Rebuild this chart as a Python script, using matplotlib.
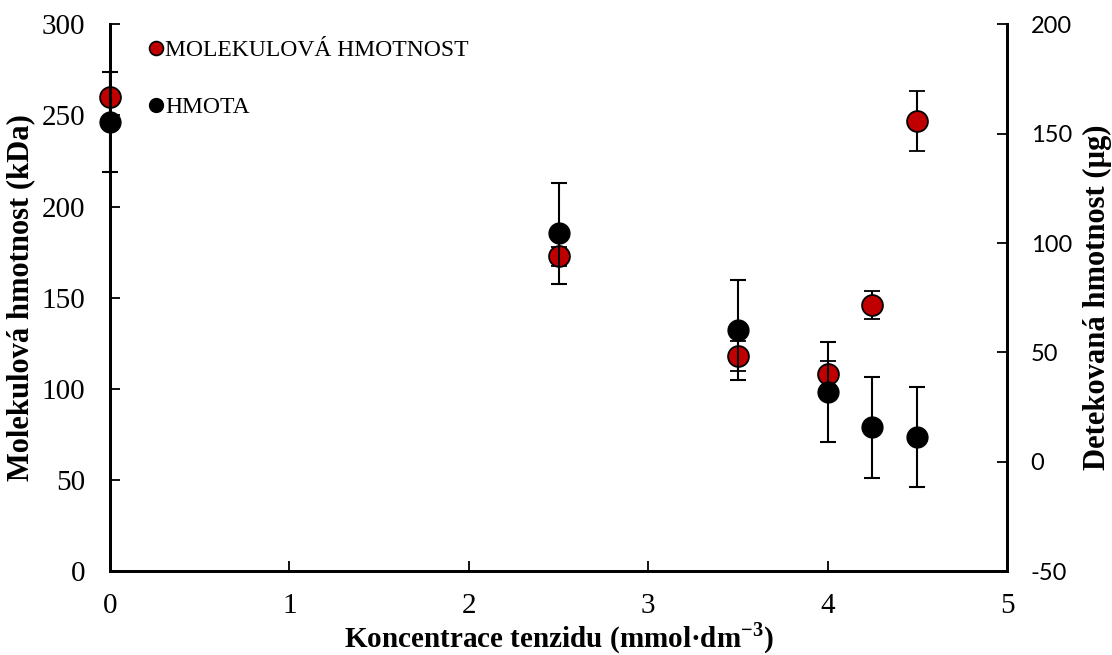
import matplotlib
matplotlib.use("Agg")
import matplotlib.pyplot as plt
from matplotlib.lines import Line2D

plt.rcParams["axes.unicode_minus"] = False

# --- Data ---
conc = [0, 2.5, 3.5, 4.0, 4.25, 4.5]

# molecular weight (left axis, kDa)
mw = [260, 172.6, 118, 108.4, 145.9, 246.7]
mw_err = [14, 5, 8, 7, 7.5, 16.5]

# detected mass (right axis, ug)
mass = [155.3, 104.4, 60.2, 31.9, 15.8, 11.4]
mass_err = [23, 23, 23, 23, 23, 23]

RED = "#C00000"
serif = "Liberation Serif"

fig = plt.figure(figsize=(11.12, 6.55), dpi=100)
ax = fig.add_axes([0.0989, 0.128, 0.8067, 0.835])
ax2 = ax.twinx()

ax.errorbar(conc, mw, yerr=mw_err, fmt="o", color=RED, mec="black", mew=1.3,
            ms=15, ecolor="black", elinewidth=1.5, capsize=6, capthick=1.5,
            clip_on=False, zorder=3)
ax2.errorbar(conc, mass, yerr=mass_err, fmt="o", color="black", mec="black",
             ms=15, ecolor="black", elinewidth=1.5, capsize=6, capthick=1.5,
             clip_on=False, zorder=3)

ax.set_xlim(0, 5)
ax.set_ylim(0, 300)
ax2.set_ylim(-50, 200)
ax.set_xticks(range(0, 6))
ax.set_yticks(range(0, 301, 50))
ax2.set_yticks(range(-50, 201, 50))

for a in (ax, ax2):
    a.spines["top"].set_visible(False)
    for s in a.spines.values():
        s.set_linewidth(2)

ax.tick_params(axis="both", direction="in", length=7, width=1.3, labelsize=21, pad=18)
ax.tick_params(axis="x", pad=16)
ax2.tick_params(axis="y", direction="in", length=7, width=1.3, labelsize=17, pad=17)
for lab in ax.get_xticklabels() + ax.get_yticklabels():
    lab.set_fontfamily(serif)
for lab in ax2.get_yticklabels():
    lab.set_fontfamily("Lato")

ax.set_xlabel("Koncentrace tenzidu (mmol·dm$^{\\mathregular{-3}}$)", fontfamily=serif,
              fontweight="bold", fontsize=21, va="center")
ax.xaxis.set_label_coords(0.5, -(638 - 571) / 547)
ax.set_ylabel("Molekulová hmotnost (kDa)", fontfamily=serif, fontweight="bold",
              fontsize=22, labelpad=4)
ax2.set_ylabel("Detekovaná hmotnost (µg)", fontfamily=serif, fontweight="bold",
               fontsize=22, labelpad=8)

handles = [
    Line2D([], [], ls="none", marker="o", color=RED, mec="black", mew=1.2, ms=10),
    Line2D([], [], ls="none", marker="o", color="black", ms=10),
]
ax2.legend(handles, ["MOLEKULOVÁ HMOTNOST", "HMOTA"], loc="upper left",
           bbox_to_anchor=(137 / 1112, 1 - 28 / 655), bbox_transform=fig.transFigure,
           frameon=False, borderpad=0, handlelength=0.6, handletextpad=0.1,
           labelspacing=1.5, prop={"family": serif, "size": 17})

fig.savefig("out.png", dpi=100)
